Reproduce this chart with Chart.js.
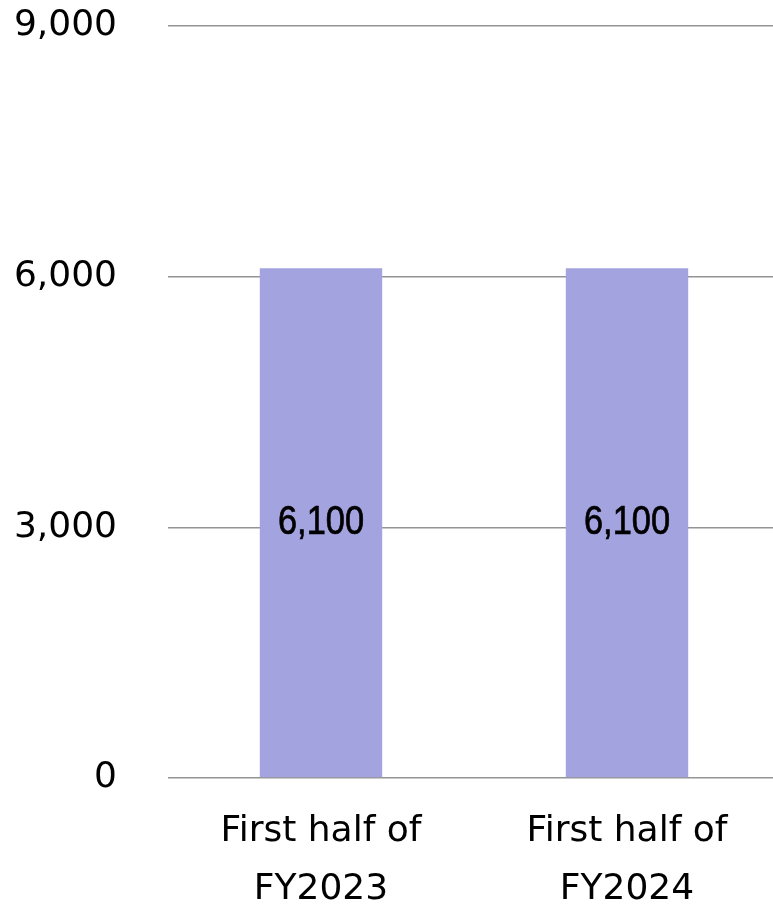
<!DOCTYPE html>
<html>
<head>
<meta charset="utf-8">
<script src="https://cdn.jsdelivr.net/npm/chart.js@4"></script>
<style>
  body { margin: 0; overflow: hidden; background: #fff; }
</style>
</head>
<body>
<canvas id="chart" width="780" height="909"></canvas>
<script>
// Données
const categories = [["First half of", "FY2023"], ["First half of", "FY2024"]];
const valeurs = [6100, 6100];
const yTicks = [0, 3000, 6000, 9000];

// Étiquettes de valeur au centre des barres (police étroite)
const etiquettes = {
    id: 'etiquettes',
    afterDatasetsDraw(chart) {
        const ctx = chart.ctx;
        const meta = chart.getDatasetMeta(0);
        meta.data.forEach((bar, i) => {
            const y = (bar.y + bar.base) / 2;
            ctx.save();
            ctx.translate(bar.x, y);
            ctx.scale(0.86, 1);
            ctx.fillStyle = '#000';
            ctx.strokeStyle = '#000';
            ctx.lineWidth = 0.7;
            ctx.font = '40px "Liberation Sans", sans-serif';
            ctx.textAlign = 'center';
            ctx.textBaseline = 'middle';
            const txt = valeurs[i].toLocaleString('en-US');
            ctx.fillText(txt, 0, 0);
            ctx.strokeText(txt, 0, 0);
            ctx.restore();
        });
    }
};

const ctx = document.getElementById('chart').getContext('2d');
new Chart(ctx, {
    type: 'bar',
    data: {
        labels: categories,
        datasets: [{
            data: valeurs,
            backgroundColor: '#A3A3DF',
            barPercentage: 0.4,
            categoryPercentage: 1,
        }],
    },
    options: {
        responsive: false,
        animation: false,
        layout: { padding: { top: 26, right: 0, bottom: 0, left: 0 } },
        plugins: {
            legend: { display: false },
            tooltip: { enabled: false },
        },
        scales: {
            x: {
                grid: { display: false, drawTicks: false },
                border: { display: false },
                ticks: {
                    color: '#000',
                    font: { family: '"DejaVu Sans"', size: 36, lineHeight: 1.61 },
                    padding: 25,
                    maxRotation: 0,
                },
                afterFit: axis => {
                    axis.height = 131;
                    axis.paddingLeft = 0;
                    axis.paddingRight = 0;
                },
            },
            y: {
                min: 0,
                max: 9000,
                afterBuildTicks: axis => { axis.ticks = yTicks.map(v => ({ value: v })); },
                grid: { color: '#949494', lineWidth: 1.5, drawTicks: false },
                border: { display: false },
                ticks: {
                    color: '#000',
                    font: { family: '"DejaVu Sans"', size: 36 },
                    padding: 51,
                    callback: v => v.toLocaleString('en-US'),
                },
                afterFit: axis => {
                    axis.width = 168;
                    axis.paddingTop = 0;
                    axis.paddingBottom = 0;
                },
            },
        },
    },
    plugins: [etiquettes],
});
</script>
</body>
</html>
